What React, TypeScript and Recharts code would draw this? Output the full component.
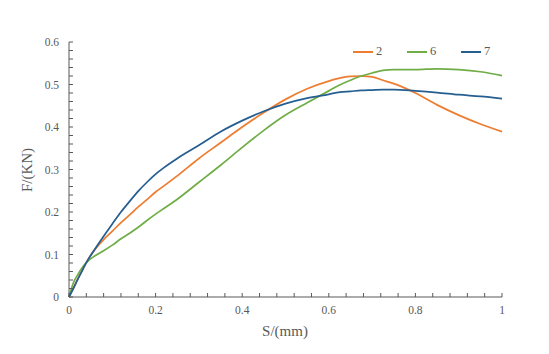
import { Line, LineChart, XAxis, YAxis } from "recharts";

// S/(mm) sample positions shared by all three specimens
const displacement = [
  0, 0.01, 0.02, 0.03, 0.04, 0.06, 0.08, 0.1, 0.12, 0.14, 0.16, 0.18, 0.2,
  0.22, 0.25, 0.3, 0.35, 0.4, 0.45, 0.5, 0.55, 0.6, 0.625, 0.65, 0.675, 0.7,
  0.725, 0.75, 0.8, 0.85, 0.9, 0.95, 1.0,
];

// F/(KN) per specimen
const force2 = [
  0, 0.021, 0.042, 0.062, 0.081, 0.112, 0.135, 0.155, 0.175, 0.193, 0.212,
  0.229, 0.247, 0.262, 0.285, 0.326, 0.363, 0.4, 0.434, 0.465, 0.49, 0.508,
  0.515, 0.519, 0.52, 0.518, 0.51, 0.502, 0.48, 0.452, 0.428, 0.407, 0.389,
];
const force6 = [
  0, 0.033, 0.052, 0.068, 0.081, 0.097, 0.109, 0.122, 0.137, 0.15, 0.164,
  0.18, 0.195, 0.209, 0.23, 0.27, 0.31, 0.352, 0.392, 0.428, 0.457, 0.485,
  0.499, 0.51, 0.52, 0.527, 0.533, 0.535, 0.535, 0.537, 0.535, 0.53, 0.521,
];
const force7 = [
  0, 0.02, 0.041, 0.061, 0.081, 0.113, 0.143, 0.172, 0.2, 0.225, 0.249,
  0.27, 0.289, 0.305, 0.326, 0.357, 0.389, 0.415, 0.437, 0.455, 0.468, 0.477,
  0.482, 0.484, 0.486, 0.487, 0.488, 0.488, 0.485, 0.481, 0.476, 0.472, 0.467,
];

const xTicks = [
  0, 0.04, 0.08, 0.12, 0.16, 0.2, 0.24, 0.28, 0.32, 0.36, 0.4, 0.44, 0.48,
  0.52, 0.56, 0.6, 0.64, 0.68, 0.72, 0.76, 0.8, 0.84, 0.88, 0.92, 0.96, 1,
];
const yTicks = [
  0, 0.02, 0.04, 0.06, 0.08, 0.1, 0.12, 0.14, 0.16, 0.18, 0.2, 0.22, 0.24,
  0.26, 0.28, 0.3, 0.32, 0.34, 0.36, 0.38, 0.4, 0.42, 0.44, 0.46, 0.48, 0.5,
  0.52, 0.54, 0.56, 0.58, 0.6,
];

const series = [
  { key: "s2", name: "2", color: "#ED7D31" },
  { key: "s6", name: "6", color: "#70AD47" },
  { key: "s7", name: "7", color: "#255E91" },
];

const data = displacement.map((s, i) => ({
  s,
  s2: force2[i],
  s6: force6[i],
  s7: force7[i],
}));

const FONT = '"Liberation Serif", "Times New Roman", serif';
const INK = "#595959";
const AXIS = "#595959";

const isMajorY = (v: number) => Math.abs(v * 10 - Math.round(v * 10)) < 1e-6;
const isMajorX = (v: number) => Math.abs(v * 5 - Math.round(v * 5)) < 1e-6;

// ticks point inward; only major ones carry a label
function XTick({ x, y, payload }: any) {
  const v = payload.value as number;
  return (
    <g>
      <line x1={x} y1={y} x2={x} y2={y - 4} stroke={AXIS} strokeWidth={1} />
      {isMajorX(v) && (
        <text x={x} y={y + 17} textAnchor="middle" fontFamily={FONT} fontSize={11.5} fill={INK}>
          {Number(v.toFixed(1))}
        </text>
      )}
    </g>
  );
}

function YTick({ x, y, payload }: any) {
  const v = payload.value as number;
  return (
    <g>
      <line x1={x} y1={y} x2={x + 4} y2={y} stroke={AXIS} strokeWidth={1} />
      {isMajorY(v) && (
        <text x={x - 10} y={y + 4} textAnchor="end" fontFamily={FONT} fontSize={11.5} fill={INK}>
          {Number(v.toFixed(1))}
        </text>
      )}
    </g>
  );
}

function LegendBox() {
  return (
    <div
      style={{
        position: "absolute",
        left: 352,
        top: 44,
        display: "flex",
        fontFamily: FONT,
        fontSize: 12.5,
        color: INK,
      }}
    >
      {series.map((s) => (
        <div key={s.key} style={{ display: "flex", alignItems: "center", width: 54 }}>
          <svg width={22} height={10}>
            <line x1={1} y1={5} x2={21} y2={5} stroke={s.color} strokeWidth={2} />
          </svg>
          <span style={{ marginLeft: 2 }}>{s.name}</span>
        </div>
      ))}
    </div>
  );
}

export default function App() {
  return (
    <div style={{ position: "absolute", left: 0, top: 0, width: 549, height: 354, background: "#fff" }}>
      <LineChart
        width={549}
        height={354}
        data={data}
        margin={{ top: 42, right: 47, bottom: 27, left: 29 }}
      >
        <XAxis
          dataKey="s"
          type="number"
          domain={[0, 1]}
          ticks={xTicks}
          interval={0}
          tick={<XTick />}
          tickLine={false}
          tickSize={0}
          tickMargin={0}
          height={30}
          stroke={AXIS}
          label={{
            content: () => (
              <text x={285} y={336} textAnchor="middle" fontFamily={FONT} fontSize={15} fill={INK}>
                S/(mm)
              </text>
            ),
          }}
        />
        <YAxis
          type="number"
          domain={[0, 0.6]}
          ticks={yTicks}
          interval={0}
          tick={<YTick />}
          tickLine={false}
          tickSize={0}
          tickMargin={0}
          width={40}
          stroke={AXIS}
          label={{
            content: () => (
              <text
                x={32}
                y={170}
                textAnchor="middle"
                fontFamily={FONT}
                fontSize={15}
                fill={INK}
                transform="rotate(-90 32 170)"
              >
                F/(KN)
              </text>
            ),
          }}
        />
        {series.map((s) => (
          <Line
            key={s.key}
            dataKey={s.key}
            name={s.name}
            type="monotone"
            stroke={s.color}
            strokeWidth={1.75}
            dot={false}
            activeDot={false}
            isAnimationActive={false}
          />
        ))}
      </LineChart>
      <LegendBox />
    </div>
  );
}
